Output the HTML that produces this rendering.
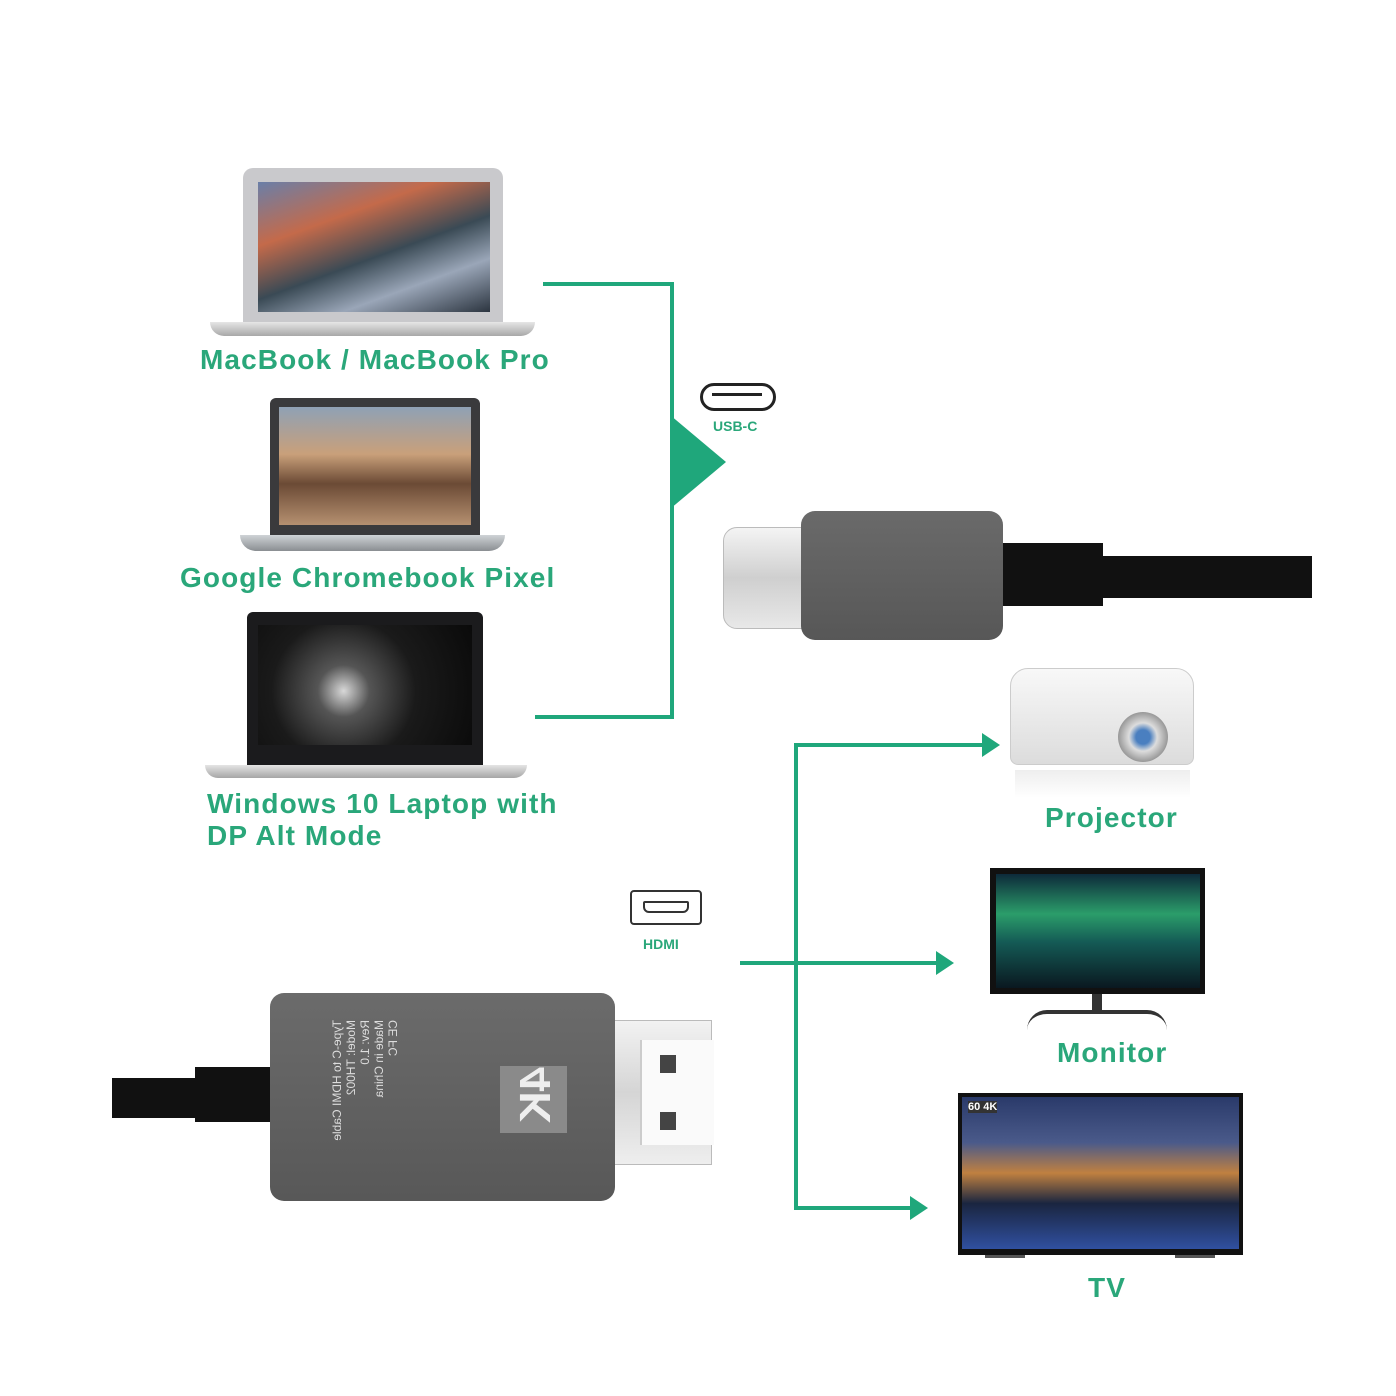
<!DOCTYPE html>
<html><head><meta charset="utf-8"><style>
body{margin:0;background:#fff;width:1396px;height:1396px;position:relative;overflow:hidden;font-family:"Liberation Sans",sans-serif}
.a{position:absolute}
.lbl{position:absolute;color:#2aa77a;font-weight:bold;font-size:28px;white-space:nowrap;letter-spacing:1.1px}
.g{position:absolute;background:#1fa77b}
</style></head><body>

<!-- MacBook -->
<div class="a" style="left:243px;top:168px;width:260px;height:156px;background:#c9c9cc;border-radius:10px 10px 0 0"></div>
<div class="a" style="left:258px;top:182px;width:232px;height:130px;background:linear-gradient(160deg,#6a7fa8 0%,#c46a4a 30%,#3a4a55 55%,#9aa6b8 75%,#2c3540 100%)"></div>
<div class="a" style="left:210px;top:322px;width:325px;height:14px;background:linear-gradient(#e6e6e6,#a8a8a8);border-radius:0 0 40px 40px"></div>
<div class="lbl" style="left:200px;top:344px">MacBook / MacBook Pro</div>

<!-- Chromebook -->
<div class="a" style="left:270px;top:398px;width:210px;height:138px;background:#3a3a3c;border-radius:6px 6px 0 0"></div>
<div class="a" style="left:279px;top:407px;width:192px;height:118px;background:linear-gradient(180deg,#8fa1b5 0%,#c9a07a 40%,#6b4a35 65%,#b59070 100%)"></div>
<div class="a" style="left:240px;top:535px;width:265px;height:16px;background:linear-gradient(#cfd3d6,#8a8e92);border-radius:0 0 20px 20px"></div>
<div class="lbl" style="left:180px;top:562px">Google Chromebook Pixel</div>

<!-- Windows laptop -->
<div class="a" style="left:247px;top:612px;width:236px;height:155px;background:#1b1b1d;border-radius:6px 6px 0 0"></div>
<div class="a" style="left:258px;top:625px;width:214px;height:120px;background:radial-gradient(circle at 40% 55%,#d8d8d8 0%,#555 18%,#1a1a1a 50%,#0a0a0a 100%)"></div>
<div class="a" style="left:205px;top:765px;width:322px;height:13px;background:linear-gradient(#e4e4e4,#a6a6a6);border-radius:0 0 30px 30px"></div>
<div class="lbl" style="left:207px;top:788px">Windows 10 Laptop with</div>
<div class="lbl" style="left:207px;top:820px">DP Alt Mode</div>

<!-- Green connectors left -->
<div class="g" style="left:543px;top:282px;width:131px;height:4px"></div>
<div class="g" style="left:670px;top:282px;width:4px;height:437px"></div>
<div class="g" style="left:535px;top:715px;width:139px;height:4px"></div>
<svg class="a" style="left:670px;top:415px" width="60" height="95"><polygon points="0,0 56,47 0,94" fill="#1fa77b"/></svg>

<!-- USB-C icon -->
<div class="a" style="left:700px;top:383px;width:70px;height:22px;border:3px solid #222;border-radius:14px"></div>
<div class="a" style="left:712px;top:393px;width:50px;height:3px;background:#222"></div>
<div class="a" style="left:713px;top:418px;font-size:14px;font-weight:bold;color:#2aa77a">USB-C</div>

<!-- USB-C cable -->
<div class="a" style="left:723px;top:527px;width:90px;height:100px;background:linear-gradient(#f4f4f4,#cfcfcf 50%,#e8e8e8);border-radius:14px 0 0 14px;border:1px solid #bbb"></div>
<div class="a" style="left:801px;top:511px;width:202px;height:129px;background:linear-gradient(#6a6a6a,#575757);border-radius:14px"></div>
<div class="a" style="left:1003px;top:543px;width:100px;height:63px;background:#111"></div>
<div class="a" style="left:1100px;top:556px;width:212px;height:42px;background:#111"></div>

<!-- Right connectors -->
<div class="g" style="left:794px;top:743px;width:4px;height:467px"></div>
<div class="g" style="left:794px;top:743px;width:190px;height:4px"></div>
<svg class="a" style="left:982px;top:733px" width="20" height="24"><polygon points="0,0 18,12 0,24" fill="#1fa77b"/></svg>
<div class="g" style="left:740px;top:961px;width:198px;height:4px"></div>
<svg class="a" style="left:936px;top:951px" width="20" height="24"><polygon points="0,0 18,12 0,24" fill="#1fa77b"/></svg>
<div class="g" style="left:794px;top:1206px;width:118px;height:4px"></div>
<svg class="a" style="left:910px;top:1196px" width="20" height="24"><polygon points="0,0 18,12 0,24" fill="#1fa77b"/></svg>

<!-- Projector -->
<div class="a" style="left:1010px;top:668px;width:182px;height:95px;background:linear-gradient(#f8f8f8,#dcdcdc);border-radius:18px 18px 8px 8px;border:1px solid #ccc"></div>
<div class="a" style="left:1118px;top:712px;width:50px;height:50px;border-radius:50%;background:radial-gradient(#4a7fc0 20%,#ddd 40%,#999 70%,#eee)"></div>
<div class="a" style="left:1015px;top:770px;width:175px;height:28px;background:linear-gradient(#eee,#fff)"></div>
<div class="lbl" style="left:1045px;top:802px">Projector</div>

<!-- HDMI icon -->
<div class="a" style="left:630px;top:890px;width:72px;height:35px;border:2px solid #333;border-radius:4px;box-sizing:border-box"></div>
<div class="a" style="left:643px;top:901px;width:46px;height:12px;border:2px solid #333;box-sizing:border-box;border-radius:2px 2px 6px 6px"></div>
<div class="a" style="left:643px;top:936px;font-size:14px;font-weight:bold;color:#2aa77a">HDMI</div>

<!-- Monitor -->
<div class="a" style="left:990px;top:868px;width:215px;height:126px;background:#111"></div>
<div class="a" style="left:996px;top:874px;width:204px;height:114px;background:linear-gradient(180deg,#0d2a3a 0%,#2b9d6a 35%,#145a55 60%,#0a1820 100%)"></div>
<div class="a" style="left:1092px;top:994px;width:10px;height:18px;background:#333"></div>
<div class="a" style="left:1027px;top:1010px;width:140px;height:16px;border-top:4px solid #333;border-radius:70px 70px 0 0"></div>
<div class="lbl" style="left:1057px;top:1037px">Monitor</div>

<!-- TV -->
<div class="a" style="left:958px;top:1093px;width:285px;height:162px;background:#111"></div>
<div class="a" style="left:962px;top:1097px;width:277px;height:152px;background:linear-gradient(180deg,#2a3a6a 0%,#4a5a8a 30%,#c08040 50%,#1a2540 70%,#3050a0 100%)"></div>
<div class="a" style="left:968px;top:1101px;font-size:11px;color:#fff;font-weight:bold;background:#333">60 4K</div>
<div class="a" style="left:985px;top:1255px;width:40px;height:3px;background:#555"></div>
<div class="a" style="left:1175px;top:1255px;width:40px;height:3px;background:#555"></div>
<div class="lbl" style="left:1088px;top:1272px">TV</div>

<!-- HDMI cable -->
<div class="a" style="left:112px;top:1078px;width:90px;height:40px;background:#111"></div>
<div class="a" style="left:195px;top:1067px;width:80px;height:55px;background:#111"></div>
<div class="a" style="left:612px;top:1020px;width:100px;height:145px;background:linear-gradient(#f2f2f2,#d5d5d5 50%,#eee);border:1px solid #bbb;box-sizing:border-box"></div>
<div class="a" style="left:640px;top:1040px;width:72px;height:105px;background:#fafafa;border-left:2px solid #ccc"></div>
<div class="a" style="left:660px;top:1055px;width:16px;height:18px;background:#444"></div>
<div class="a" style="left:660px;top:1112px;width:16px;height:18px;background:#444"></div>
<div class="a" style="left:270px;top:993px;width:345px;height:208px;background:linear-gradient(#6b6b6b,#585858);border-radius:14px"></div>
<div class="a" style="left:500px;top:1066px;width:67px;height:67px;background:#8a8a8a"></div>
<div class="a" style="left:508px;top:1070px;font-size:44px;color:#eee;transform:rotate(90deg) scaleY(-1);font-weight:bold">4K</div>
<div class="a" style="font-size:12px;color:#ddd;transform:rotate(90deg) scaleY(-1);transform-origin:left top;white-space:pre;line-height:14px;left:330px;top:1020px">Type-C to HDMI Cable
Model: TH002
Rev: 1.0
Made in China
CE FC</div>
</body></html>
